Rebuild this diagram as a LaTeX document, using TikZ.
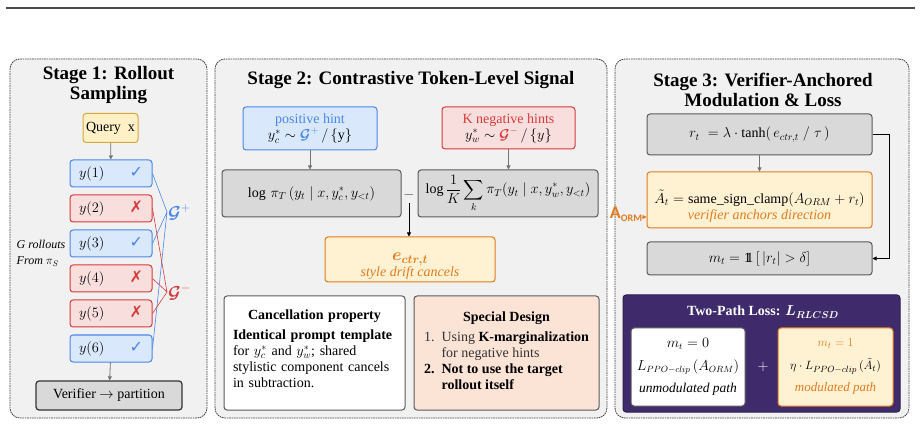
\documentclass[tikz,border=0pt]{standalone}
\usepackage{fontspec}
\setmainfont{Liberation Serif}
\newfontfamily\symfont{DejaVu Sans}
\newfontfamily\labelfont{Carlito}
\usepackage{amsmath}
\usepackage{amssymb}
\usetikzlibrary{arrows.meta, positioning, calc}
\definecolor{posblue}  {HTML}{4A86E8}
\definecolor{posfill}  {HTML}{DAE8FC}
\definecolor{negred}   {HTML}{D63B3B}
\definecolor{negfill}  {HTML}{F9DEDE}
\definecolor{boxgray}  {HTML}{D9D9D9}
\definecolor{edgegray} {HTML}{5A5A5A}
\definecolor{hotorange}{HTML}{E07B1F}
\definecolor{warmfill} {HTML}{FFF2D2}
\definecolor{querygold}{HTML}{D6A93A}
\definecolor{queryfill}{HTML}{FFF0C6}
\definecolor{peach}    {HTML}{FBE3D6}
\definecolor{panelgray}{HTML}{F1F1F1}
\definecolor{lossviolet}{HTML}{3F2B6B}
\newcommand{\okmark}{\textcolor{posblue}{\symfont\fontsize{16}{16}\selectfont ✓}}
\newcommand{\badmark}{\textcolor{negred}{\symfont\fontsize{16}{16}\selectfont ✗}}
\newcommand{\gpos}{\boldsymbol{\mathcal{G}}^{+}}
\newcommand{\gneg}{\boldsymbol{\mathcal{G}}^{-}}
\newcommand{\indicator}{\mathrm{1}\mkern-6mu\mathrm{1}}
\tikzset{
  panel/.style={draw=black!75, fill=panelgray, dash pattern=on 1.6pt off 0.8pt,
                line width=0.8pt, rounded corners=10pt, inner sep=0pt},
  stagetitle/.style={font=\fontsize{19}{20}\selectfont\bfseries, align=center},
  box/.style={rounded corners=3pt, line width=1pt, inner sep=0pt, align=center},
  graybox/.style={box, draw=edgegray, fill=boxgray},
  posbox/.style={box, draw=posblue, fill=posfill},
  negbox/.style={box, draw=negred, fill=negfill},
  warmbox/.style={box, draw=hotorange, fill=warmfill},
  notebox/.style={box, draw=edgegray},
  feed/.style={draw=black!55, line width=0.8pt, -{Triangle[length=4pt, width=4pt]}},
  link/.style={line width=0.6pt}
}

\begin{document}
\begin{tikzpicture}[x=1pt, y=-1pt, font=\fontsize{14}{16}\selectfont]
  \useasboundingbox (0,0) rectangle (921,430);
  \draw[line width=2pt, black!70] (6,8) -- (915,8);

  % three stages
  \node[panel, minimum width=197pt, minimum height=359pt] (stageone)   at (108.5,238.5) {};
  \node[panel, minimum width=392pt, minimum height=359pt] (stagetwo)   at (411,238.5) {};
  \node[panel, minimum width=294pt, minimum height=359pt] (stagethree) at (762,238.5) {};
  \node[stagetitle] (titleone)   at (108.5,85.5) {Stage 1: Rollout\\Sampling};
  \node[stagetitle] (titletwo)   at (411,80)     {Stage 2: Contrastive Token-Level Signal};
  \node[stagetitle] (titlethree) at (763,90)     {Stage 3: Verifier-Anchored\\Modulation \& Loss};

  % stage 1
  \node[box, draw=querygold, fill=queryfill, minimum width=55pt, minimum height=29pt] (query) at (110.5,128) {Query\ \ x};
  \foreach \i/\s/\m [evaluate=\i as \yy using 173.5+35*(\i-1)] in
    {1/posbox/\okmark, 2/negbox/\badmark, 3/posbox/\okmark, 4/negbox/\badmark, 5/negbox/\badmark, 6/posbox/\okmark}
    \node[\s, minimum width=82pt, minimum height=27pt, font=\fontsize{15}{16}\selectfont] (y\i) at (111,\yy) {\makebox[64pt]{$y(\i)$\hfill\m}};
  \node[anchor=west, inner sep=1pt, text=posblue, font=\fontsize{17}{17}\selectfont] (gplus)  at (167,212) {$\gpos$};
  \node[anchor=west, inner sep=1pt, text=negred, font=\fontsize{17}{17}\selectfont]  (gminus) at (167,292) {$\gneg$};
  \draw[link, posblue] (y1.east) -- (gplus.west) (y3.east) -- (gplus.west) (y6.east) -- (gplus.west);
  \draw[link, negred] (y2.east) -- (gminus.west) (y4.east) -- (gminus.west) (y5.east) -- (gminus.west);
  \node[align=left, font=\fontsize{12}{16}\selectfont\itshape] (rollnote) at (41,253) {G rollouts\\From $\pi_S$};
  \node[box, draw=black!80, fill=boxgray, line width=1.2pt, minimum width=146pt, minimum height=29pt] (verifier) at (109,395.5) {Verifier $\rightarrow$ partition};
  \draw[feed] (query) -- (y1);
  \draw[feed] (y6) -- (verifier);

  % stage 2
  \node[posbox, minimum width=134pt, minimum height=43pt] (poshint) at (310,128.5)
    {\textcolor{posblue}{positive hint}\\$y_c^{*}\sim\textcolor{posblue}{\gpos}\,/\,\{\mathrm{y}\}$};
  \node[negbox, minimum width=133pt, minimum height=42pt] (neghint) at (508.5,128)
    {\textcolor{negred}{K negative hints}\\$y_w^{*}\sim\textcolor{negred}{\gneg}\,/\,\{y\}$};
  \node[graybox, minimum width=179pt, minimum height=47pt] (logpos) at (311.5,193.5)
    {$\log\,\pi_T\,(y_t\mid x, y_c^{*}, y_{<t})$};
  \node[graybox, minimum width=180pt, minimum height=47pt] (logneg) at (508,193.5)
    {$\log\dfrac{1}{K}\displaystyle\sum_{k}\pi_T(y_t\mid x, y_w^{*}, y_{<t})$};
  \node[text=black!70] (minus) at (409,195) {$-$};
  \draw[feed] (poshint.south) -- (poshint.south |- logpos.north);
  \draw[feed] (neghint.south) -- (neghint.south |- logneg.north);
  \node[warmbox, text=hotorange, minimum width=170pt, minimum height=45pt] (ectr) at (410,259.5)
    {\rule{0pt}{22pt}{\fontsize{18}{18}\selectfont$\boldsymbol{e_{ctr,t}}$}\\[0pt]\itshape style drift cancels};
  \draw[feed, draw=black] (minus.south) -- (minus.south |- ectr.north);
  \node[notebox, fill=white, minimum width=181pt, minimum height=114pt, text width=163pt, align=left] (cancel) at (314.5,353)
    {{\centering\textbf{Cancellation property}\par}\vspace{4pt}
     \textbf{Identical prompt template}\\for $y_c^{*}$\ and $y_w^{*}$; shared\\stylistic component cancels\\in subtraction.\rule[-9pt]{0pt}{9pt}};
  \node[notebox, fill=peach, minimum width=185pt, minimum height=114pt] (special) at (506.5,353)
    {\textbf{Special Design}\\[5pt]
     \begin{tabular}{@{}r@{\ \ }l@{}}
       \textcolor{black!80}{1.} & \textcolor{black!80}{Using} \textbf{K-marginalization}\\
        & \textcolor{black!80}{for negative hints}\\
       \textbf{2.} & \textbf{Not to use the target}\\
        & \textbf{rollout itself}
     \end{tabular}};

  % stage 3
  \node[graybox, minimum width=225pt, minimum height=41pt] (rt) at (759.5,134.5)
    {$r_t\;=\lambda\cdot\tanh(\,e_{ctr,t}\;/\;\tau\,)$};
  \node[warmbox, minimum width=225pt, minimum height=56pt] (atil) at (759.5,200)
    {\rule{0pt}{26pt}$\tilde{A}_t=\mathrm{same\_sign\_clamp}(A_{ORM}+r_t)$\\\textcolor{hotorange}{\itshape verifier anchors direction}};
  \node[graybox, minimum width=225pt, minimum height=33pt] (mt) at (759.5,258.5)
    {$m_t=\indicator\,[\,|r_t|>\delta]$};
  \draw[feed] (rt) -- (atil);
  \draw[line width=0.8pt, -{Triangle[length=4pt, width=4pt]}] (rt.east) -- ++(17,0) |- (mt.east);
  \node[inner sep=0pt, text=hotorange, font=\labelfont\bfseries] (aorm) at (626,214)
    {{\fontsize{18}{18}\selectfont A}\raisebox{-3pt}{\fontsize{10}{10}\selectfont ORM}};
  \draw[hotorange, line width=0.8pt, -{Triangle[length=4pt, width=4pt]}] ([yshift=-3pt]aorm.east) -- ([yshift=-3pt]aorm.east -| atil.west);

  \node[box, fill=lossviolet, draw=lossviolet!70!black, minimum width=277pt, minimum height=117pt] (loss) at (761.5,353.5) {};
  \node[text=white, font=\fontsize{14}{16}\selectfont\bfseries] (losstitle) at (763,312) {Two-Path Loss: $\boldsymbol{L_{RLCSD}}$};
  \node[notebox, fill=white, minimum width=114pt, minimum height=78pt, font=\fontsize{13.5}{15}\selectfont] (unmod) at (688,367)
    {$m_t=0$\\[8pt]$L_{PPO-clip}\,(A_{ORM})$\\[7pt]\itshape unmodulated path};
  \node[text=white] (plus) at (763,367) {$+$};
  \node[warmbox, minimum width=115pt, minimum height=78pt, font=\fontsize{13}{15}\selectfont] (modul) at (835.5,367)
    {\textcolor{hotorange}{$m_t=1$}\\[8pt]$\eta\cdot L_{PPO-clip}\,(\tilde{A}_t)$\\[7pt]\textcolor{hotorange}{\itshape modulated path}};
\end{tikzpicture}
\end{document}
